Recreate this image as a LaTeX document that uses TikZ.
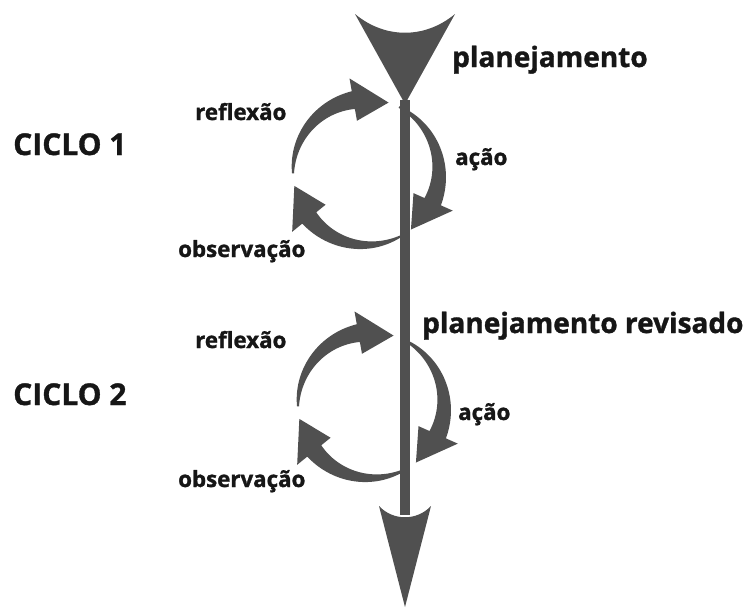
\documentclass[tikz,border=0pt]{standalone}
\usepackage{fontspec}
\setmainfont{Open Sans}[BoldFeatures={FakeBold=1.2}]
\definecolor{shapegray}{RGB}{80,80,80}
\definecolor{ink}{RGB}{22,22,22}

% Tapered curved arrow around the current origin, running clockwise.
% #1 = start angle (thin end), #2 = angle of the tip.
\newcommand{\cyclearrow}[2]{%
  \pgfmathsetmacro{\hb}{#2+28}%
  \fill[shapegray]
    plot[domain=#1:\hb, samples=40] (\x:{74+8*((#1)-(\x))/((#1)-(\hb))})
    -- (\hb:95) -- (#2:73) -- (\hb:52)
    -- plot[domain=\hb:#1, samples=40] (\x:{72-8*((#1)-(\x))/((#1)-(\hb))})
    -- cycle;}

\tikzset{
  lbl/.style={inner sep=0pt, anchor=base west, text=ink, font=\bfseries\fontsize{22.3}{26}\selectfont},
  biglbl/.style={lbl, font=\bfseries\fontsize{28}{33}\selectfont},
  cyclelbl/.style={lbl, font=\bfseries\fontsize{30}{35}\selectfont},
  axisline/.style={draw=shapegray, line width=9.5pt}
}

\begin{document}
\begin{tikzpicture}[x=1pt,y=1pt]
  \fill[white] (0,0) rectangle (747,-608);
  \useasboundingbox (0,0) rectangle (747,-608);

  % the two cycles
  \begin{scope}[shift={(366,-172)}]
    \cyclearrow{181}{72}
    \cyclearrow{63}{-52}
    \cyclearrow{-62}{-169}
  \end{scope}
  \begin{scope}[shift={(371,-405)}]
    \cyclearrow{181}{72}
    \cyclearrow{63}{-52}
    \cyclearrow{-62}{-169}
  \end{scope}

  % time axis: wide head on top, arrow head at the bottom
  \coordinate (top) at (405,-100);
  \coordinate (bottom) at (405,-515);
  \draw[axisline] (top) -- (bottom);
  \fill[shapegray] (355,-14) .. controls (385,-39) and (425,-39) .. (455,-14)
    -- (405,-104) -- cycle;
  \fill[shapegray] (379,-506) .. controls (393,-521) and (417,-521) .. (431,-506)
    -- (405,-607) -- cycle;

  % labels
  \node[biglbl] (plan) at (452,-67) {planejamento};
  \node[biglbl] (planrev) at (422,-333) {planejamento revisado};
  \node[cyclelbl] (c1) at (13,-155) {CICLO 1};
  \node[cyclelbl] (c2) at (13,-405) {CICLO 2};
  \node[lbl] (refl1) at (195,-120) {reflexão};
  \node[lbl] (acao1) at (455,-165) {ação};
  \node[lbl] (obs1) at (178,-257) {observação};
  \node[lbl] (refl2) at (195,-348) {reflexão};
  \node[lbl] (acao2) at (458,-420) {ação};
  \node[lbl] (obs2) at (178,-487) {observação};
\end{tikzpicture}
\end{document}
